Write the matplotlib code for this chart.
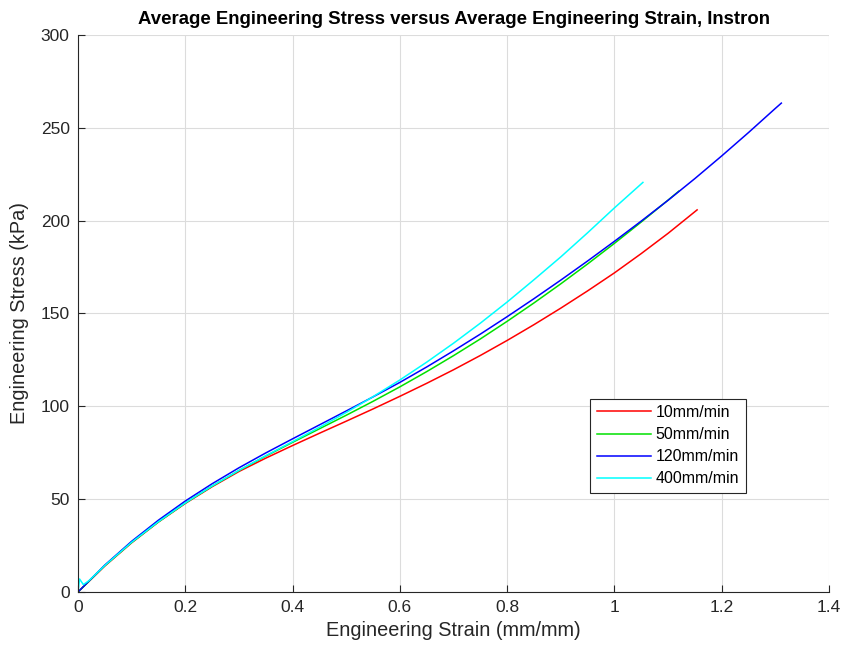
import matplotlib
matplotlib.use("Agg")
import matplotlib.pyplot as plt

plt.rcParams['font.family'] = ['Liberation Sans', 'DejaVu Sans']

# Average stress-strain curves for each crosshead speed
strain_10 = [0, 0.05, 0.1, 0.15, 0.2, 0.25, 0.3, 0.35, 0.4, 0.45, 0.5, 0.55, 0.6,
             0.65, 0.7, 0.75, 0.8, 0.85, 0.9, 0.95, 1.0, 1.05, 1.1, 1.154]
stress_10 = [0, 14.0, 26.5, 37.7, 47.7, 56.7, 64.9, 72.1, 78.9, 85.5, 92.0, 98.6, 105.4,
             112.4, 119.7, 127.4, 135.5, 144.0, 152.9, 162.2, 171.9, 182.3, 193.2, 205.8]

strain_50 = [0, 0.05, 0.1, 0.15, 0.2, 0.25, 0.3, 0.35, 0.4, 0.45, 0.5, 0.55, 0.6,
             0.65, 0.7, 0.75, 0.8, 0.85, 0.9, 0.95, 1.0, 1.05, 1.1, 1.12]
stress_50 = [0, 14.2, 26.7, 37.8, 47.9, 57.0, 65.4, 73.2, 80.6, 87.9, 95.2, 102.7, 110.5,
             118.7, 127.3, 136.3, 145.8, 155.7, 166.0, 176.7, 187.8, 199.3, 211.1, 215.9]

strain_120 = [0, 0.05, 0.1, 0.15, 0.2, 0.25, 0.3, 0.35, 0.4, 0.45, 0.5, 0.55, 0.6,
              0.65, 0.7, 0.75, 0.8, 0.85, 0.9, 0.95, 1.0, 1.05, 1.1, 1.15, 1.2, 1.25,
              1.3, 1.311]
stress_120 = [0, 14.5, 27.3, 38.7, 49.0, 58.3, 66.9, 74.9, 82.5, 90.0, 97.5, 105.1, 112.9,
              121.2, 129.9, 138.9, 148.3, 158.0, 168.0, 178.3, 188.9, 199.8, 211.0, 222.7,
              234.9, 247.5, 260.5, 263.3]

strain_400 = [0, 0.003, 0.01, 0.02, 0.05, 0.1, 0.15, 0.2, 0.25, 0.3, 0.35, 0.4, 0.45, 0.5,
              0.55, 0.6, 0.65, 0.7, 0.75, 0.8, 0.85, 0.9, 0.95, 1.0, 1.053]
stress_400 = [0, 7, 4, 6, 14.3, 26.8, 37.9, 48.0, 57.1, 65.5, 73.4, 81.0, 88.7, 96.7,
              105.2, 114.2, 123.8, 134.0, 144.8, 156.2, 168.2, 180.5, 193.5, 206.9, 220.6]

labels = ['10mm/min', '50mm/min', '120mm/min', '400mm/min']
colors = ['#ff0000', '#00e000', '#0000ff', '#00ffff']

fig = plt.figure(figsize=(8.43, 6.5), dpi=100)
ax = fig.add_axes([0.0925, 0.0892, 0.891, 0.857])

series = [(strain_10, stress_10), (strain_50, stress_50),
          (strain_120, stress_120), (strain_400, stress_400)]
for (x, y), lab, c in zip(series, labels, colors):
    ax.plot(x, y, color=c, lw=1.1, label=lab)

ax.set_xlim(0, 1.4)
ax.set_ylim(0, 300)
ax.set_xticks([0, 0.2, 0.4, 0.6, 0.8, 1.0, 1.2, 1.4])
ax.set_xticklabels(['0', '0.2', '0.4', '0.6', '0.8', '1', '1.2', '1.4'])
ax.set_yticks(range(0, 301, 50))

ax.grid(True, color='#dcdcdc', lw=0.8)
ax.set_axisbelow(True)
for s in ['top', 'right']:
    ax.spines[s].set_visible(False)
for s in ['left', 'bottom']:
    ax.spines[s].set_color('#262626')
    ax.spines[s].set_linewidth(0.8)
ax.tick_params(direction='in', length=5, width=0.8, colors='#262626',
               labelsize=12.5, labelcolor='#262626', pad=6)

ax.set_xlabel('Engineering Strain (mm/mm)', fontsize=14.3, color='#262626', labelpad=4)
ax.set_ylabel('Engineering Stress (kPa)', fontsize=14.3, color='#262626', labelpad=8)
ax.set_title('Average Engineering Stress versus Average Engineering Strain, Instron',
             fontsize=13.4, fontweight='bold', color='#000000', pad=8)

leg = ax.legend(loc='lower left', bbox_to_anchor=(0.682, 0.178), fontsize=11.5,
                fancybox=False, framealpha=1, edgecolor='#262626',
                handlelength=3.4, borderpad=0.4, labelspacing=0.45,
                handletextpad=0.3, borderaxespad=0)
leg.get_frame().set_linewidth(0.8)

fig.savefig('out.png', dpi=100)
